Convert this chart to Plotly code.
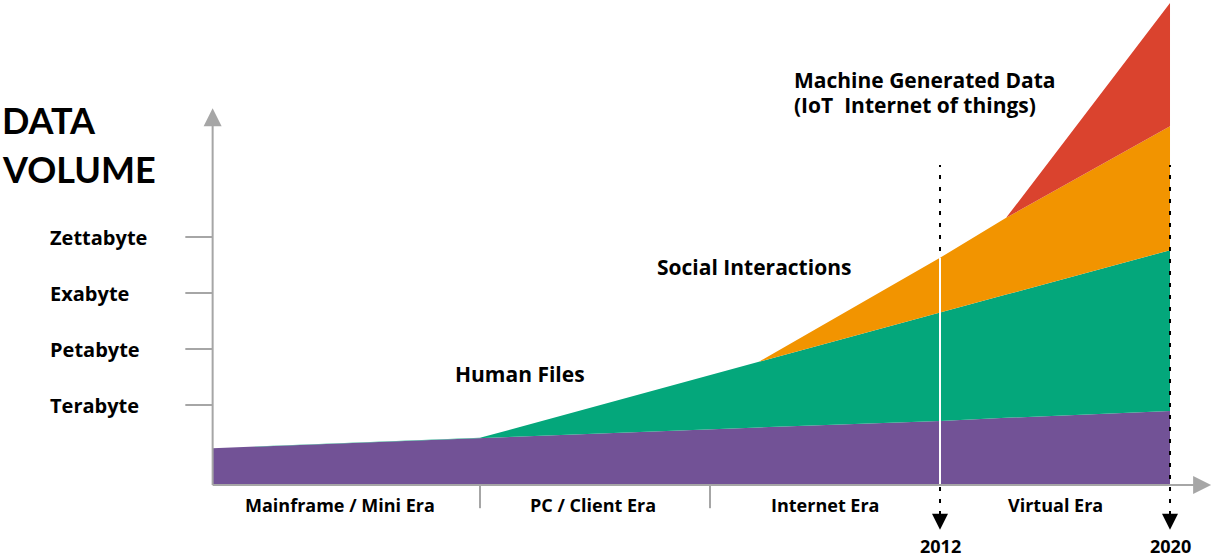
import plotly.graph_objects as go

# ---- data (x = year, y = relative data-volume index) ----
years = [1986.7, 1996, 2005.7, 2012, 2014.3, 2020]
enterprise = [4.6, 5.9, 7.2, 8.0, 8.4, 9.25]        # purple base layer
human_files = [0, 0, 8.2, 13.5, 15.4, 20.1]          # green
social = [0, 0, 0, 6.9, 9.6, 15.5]                   # orange
machine = [0, 0, 0, 0, 0, 15.4]                      # red

volume_labels = ["Terabyte", "Petabyte", "Exabyte", "Zettabyte"]
volume_ticks = [10, 17, 24, 31]

era_labels = ["Mainframe / Mini Era", "PC / Client Era", "Internet Era", "Virtual Era"]
era_bounds = [1986.7, 1996, 2004, 2012, 2020]
marker_years = [2012, 2020]

# ---- styling ----
PURPLE = "#725296"
GREEN = "#04a77b"
ORANGE = "#f29400"
RED = "#da432e"
GRAY = "#a6a6a6"
FONT = "Open Sans"

X_RANGE = [1979.304, 2021.530]
Y_RANGE = [-8.5, 60.625]
x0 = years[0]
x_tip = 2021.43
y_tip = 47.1
dot_top = 40.0
dot_bottom = -3.75
down_tip = -5.6

fig = go.Figure()

# dotted guide at 2012 (drawn beneath the areas)
fig.add_trace(go.Scatter(x=[marker_years[0]] * 2, y=[dot_bottom, dot_top], mode="lines",
                         line=dict(color="black", width=2, dash="4px,8px"), hoverinfo="skip"))

for vals, col in [(enterprise, PURPLE), (human_files, GREEN), (social, ORANGE), (machine, RED)]:
    fig.add_trace(go.Scatter(x=years, y=vals, stackgroup="one", mode="lines",
                             line=dict(width=0, color=col), fillcolor=col, hoverinfo="skip"))

# white separator through the areas at 2012
i2012 = years.index(2012)
top2012 = enterprise[i2012] + human_files[i2012] + social[i2012] + machine[i2012]
fig.add_trace(go.Scatter(x=[2012, 2012], y=[0, top2012], mode="lines",
                         line=dict(color="white", width=2), hoverinfo="skip"))

# dotted guide at 2020 (on top)
fig.add_trace(go.Scatter(x=[marker_years[1]] * 2, y=[dot_bottom, dot_top], mode="lines",
                         line=dict(color="black", width=2, dash="4px,8px"), hoverinfo="skip"))

# down arrows under the year markers
fig.add_trace(go.Scatter(x=marker_years, y=[down_tip] * 2, mode="markers",
                         marker=dict(symbol="arrow-down", size=16, color="black", line=dict(width=0)),
                         hoverinfo="skip"))

# axis arrow heads
fig.add_trace(go.Scatter(x=[x0], y=[y_tip], mode="markers",
                         marker=dict(symbol="arrow-up", size=18, color=GRAY, line=dict(width=0)),
                         hoverinfo="skip"))
fig.add_trace(go.Scatter(x=[x_tip], y=[0], mode="markers",
                         marker=dict(symbol="arrow-right", size=18, color=GRAY, line=dict(width=0)),
                         hoverinfo="skip"))

shapes = [
    dict(type="line", x0=x0, x1=x0, y0=0, y1=y_tip - 2, line=dict(color=GRAY, width=2)),
    dict(type="line", x0=x0, x1=x_tip - 0.6, y0=0, y1=0, line=dict(color=GRAY, width=2)),
]
for t in volume_ticks:
    shapes.append(dict(type="line", x0=x0 - 0.95, x1=x0, y0=t, y1=t, line=dict(color=GRAY, width=2)))
for b in era_bounds[1:3]:
    shapes.append(dict(type="line", x0=b, x1=b, y0=0, y1=-2.9, line=dict(color=GRAY, width=2)))

annotations = []
for lab, t in zip(volume_labels, volume_ticks):
    annotations.append(dict(x=1980.98, y=t, text=lab, showarrow=False, xanchor="left", yanchor="middle",
                            font=dict(family=FONT, size=20, color="black", weight="bold")))
era_centers = [1991.13, 1999.93, 2008.0, 2016.0]
for lab, c in zip(era_labels, era_centers):
    annotations.append(dict(x=c, y=-2.5, text=lab, showarrow=False, xanchor="center", yanchor="middle",
                            font=dict(family=FONT, size=18, color="black", weight="bold")))
for yr in marker_years:
    annotations.append(dict(x=yr, y=-7.65, text=str(yr), showarrow=False, xanchor="center", yanchor="middle",
                            font=dict(family=FONT, size=18, color="black", weight="bold")))

annotations += [
    dict(x=X_RANGE[0], y=45.6, text="DATA", showarrow=False, xanchor="left", yanchor="middle",
         font=dict(family="Lato", size=36, color="black", weight="bold")),
    dict(x=X_RANGE[0], y=39.5, text="VOLUME", showarrow=False, xanchor="left", yanchor="middle",
         font=dict(family="Lato", size=36, color="black", weight="bold")),
    dict(x=1995.05, y=13.9, text="Human Files", showarrow=False, xanchor="left", yanchor="middle",
         font=dict(family=FONT, size=21, color="black", weight="bold")),
    dict(x=2002.1, y=27.25, text="Social Interactions", showarrow=False, xanchor="left", yanchor="middle",
         font=dict(family=FONT, size=21, color="black", weight="bold")),
    dict(x=2006.85, y=50.6, text="Machine Generated Data", showarrow=False, xanchor="left", yanchor="middle",
         font=dict(family=FONT, size=21, color="black", weight="bold")),
    dict(x=2006.85, y=47.5, text="(IoT&nbsp;&nbsp;Internet of things)", showarrow=False, xanchor="left",
         yanchor="middle", font=dict(family=FONT, size=21, color="black", weight="bold")),
]

fig.update_layout(
    width=1214, height=553,
    margin=dict(l=0, r=0, t=0, b=0),
    paper_bgcolor="white", plot_bgcolor="white",
    showlegend=False, hovermode=False,
    xaxis=dict(range=X_RANGE, visible=False, fixedrange=True),
    yaxis=dict(range=Y_RANGE, visible=False, fixedrange=True),
    shapes=shapes, annotations=annotations,
)

fig.write_html("out.html", config={"displayModeBar": False, "staticPlot": True},
               post_script="document.body.style.margin='0';document.body.style.overflow='hidden';")
